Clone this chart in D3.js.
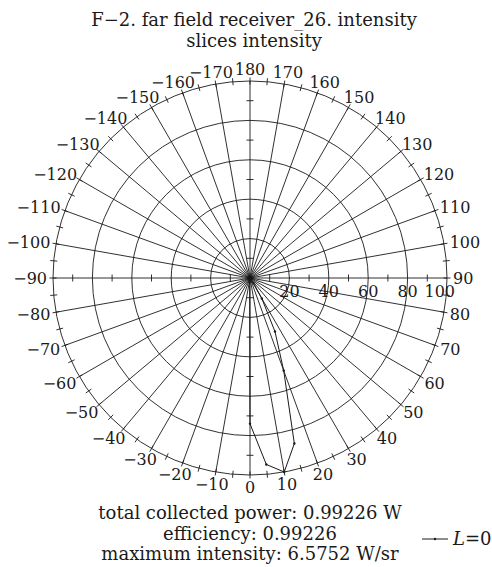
<!DOCTYPE html>
<html>
<head>
<meta charset="utf-8">
<script src="https://cdn.jsdelivr.net/npm/d3@7"></script>
<style>
body { margin: 0; background: #fff; }
svg { display: block; font-family: "DejaVu Serif", serif; }
</style>
</head>
<body>
<svg class="chart" width="492" height="567"></svg>
<script>
var titleLines = ["F\u22122. far field receiver_26. intensity", "slices intensity"];
var infoLines = ["total collected power: 0.99226 W", "efficiency: 0.99226", "maximum intensity: 6.5752 W/sr"];
var ringValues = [20, 40, 60, 80, 100];
var axisTickValues = [10, 30, 50, 70, 90];
var angleLabels = [-170, -160, -150, -140, -130, -120, -110, -100, -90, -80, -70, -60, -50, -40, -30, -20, -10,
                   0, 10, 20, 30, 40, 50, 60, 70, 80, 90, 100, 110, 120, 130, 140, 150, 160, 170, 180];
var seriesName = "L=0";
var sliceAngles = [-40, -35, -30, -25, -20, -15, -10, -5, 0, 5, 10, 15, 20, 25, 30, 35, 40];
var sliceValues = [0, 0, 0, 0, 0, 0.3, 0.8, 2, 74, 95, 100, 87, 50, 30, 12, 3, 0];

var cx = 250, cy = 278, R = 197;
var ink = "#1a1a1a";

var svg = d3.select(".chart");

var r = d3.scaleLinear().domain([0, 100]).range([0, R]);

// 0 deg points down, 90 to the right, 180 up
function toRad(deg) { return deg * Math.PI / 180; }
function pt(deg, radius) {
    var a = toRad(deg);
    return [cx + radius * Math.sin(a), cy + radius * Math.cos(a)];
}
function fmt(d) { return d < 0 ? "\u2212" + Math.abs(d) : String(d); }

var grid = svg.append("g").attr("stroke", ink).attr("stroke-width", 0.9).attr("fill", "none");

// rings
grid.selectAll("circle.ring")
    .data(ringValues)
    .enter().append("circle")
    .attr("class", "ring")
    .attr("cx", cx).attr("cy", cy)
    .attr("r", function(d) { return r(d); });

// spokes every 10 deg
grid.selectAll("line.spoke")
    .data(angleLabels)
    .enter().append("line")
    .attr("class", "spoke")
    .attr("x1", cx).attr("y1", cy)
    .attr("x2", function(d) { return pt(d, r(100))[0]; })
    .attr("y2", function(d) { return pt(d, r(100))[1]; });

// minor ticks on outer circle every 5 deg
var minorAngles = d3.range(-175, 185, 5);
grid.selectAll("line.minor")
    .data(minorAngles)
    .enter().append("line")
    .attr("class", "minor")
    .attr("x1", function(d) { return pt(d, R - 3.5)[0]; })
    .attr("y1", function(d) { return pt(d, R - 3.5)[1]; })
    .attr("x2", function(d) { return pt(d, R + 3.5)[0]; })
    .attr("y2", function(d) { return pt(d, R + 3.5)[1]; });

// small ticks along the four axes
[0, 90, 180, -90].forEach(function(axisDeg) {
    grid.selectAll(null)
        .data(axisTickValues)
        .enter().append("line")
        .each(function(v) {
            var p = pt(axisDeg, r(v));
            var a = toRad(axisDeg);
            // perpendicular direction
            var px = Math.cos(a) * 3.5, py = -Math.sin(a) * 3.5;
            d3.select(this)
                .attr("x1", p[0] - px).attr("y1", p[1] - py)
                .attr("x2", p[0] + px).attr("y2", p[1] + py);
        });
});

// angle labels outside the circle
var labelG = svg.append("g").attr("font-size", 16).attr("fill", ink);
labelG.selectAll("text")
    .data(angleLabels)
    .enter().append("text")
    .attr("text-anchor", "middle")
    .text(fmt)
    .each(function(d) {
        var w = this.getComputedTextLength(), h = 12;
        var a = toRad(d);
        var ux = Math.sin(a), uy = Math.cos(a);
        var p = pt(d, R + 6);
        var x = p[0] + ux * w / 2;
        var y = p[1] + uy * h / 2;
        d3.select(this).attr("x", x).attr("y", y + h / 2);
    });

// radial value labels under the horizontal axis
labelG.selectAll("text.rlab")
    .data(ringValues)
    .enter().append("text")
    .attr("class", "rlab")
    .attr("text-anchor", function(d, i) { return i === ringValues.length - 1 ? "end" : "middle"; })
    .attr("x", function(d, i) { return cx + r(d) + (i === ringValues.length - 1 ? 8 : 0); })
    .attr("y", cy + 19)
    .text(function(d) { return d; });

// the slice
var slice = sliceAngles.map(function(a, i) { return { angle: a, value: sliceValues[i] }; });
var line = d3.lineRadial()
    .angle(function(d) { return Math.PI - toRad(d.angle); })
    .radius(function(d) { return r(d.value); });

var plot = svg.append("g").attr("transform", "translate(" + cx + "," + cy + ")");
plot.append("path")
    .datum(slice)
    .attr("fill", "none")
    .attr("stroke", ink)
    .attr("stroke-width", 1)
    .attr("d", line);
plot.selectAll("circle")
    .data(slice)
    .enter().append("circle")
    .attr("r", 1.2)
    .attr("fill", ink)
    .attr("cx", function(d) { return r(d.value) * Math.sin(toRad(d.angle)); })
    .attr("cy", function(d) { return r(d.value) * Math.cos(toRad(d.angle)); });

// titles
var txt = svg.append("g").attr("font-size", 18).attr("fill", ink).attr("text-anchor", "middle");
txt.selectAll("text.title")
    .data(titleLines)
    .enter().append("text")
    .attr("class", "title")
    .attr("x", 254)
    .attr("y", function(d, i) { return 26 + i * 21; })
    .text(function(d) { return d; });

txt.selectAll("text.info")
    .data(infoLines)
    .enter().append("text")
    .attr("class", "info")
    .attr("x", 250)
    .attr("y", function(d, i) { return 519 + i * 20.5; })
    .text(function(d) { return d; });

// legend
var legend = svg.append("g").attr("transform", "translate(422,539)");
legend.append("line")
    .attr("x1", 0).attr("x2", 26).attr("y1", 0).attr("y2", 0)
    .attr("stroke", ink).attr("stroke-width", 1);
legend.append("circle").attr("cx", 13).attr("cy", 0).attr("r", 1.2).attr("fill", ink);
var lt = legend.append("text")
    .attr("x", 31).attr("y", 6)
    .attr("font-size", 18).attr("fill", ink);
lt.append("tspan").attr("font-style", "italic").text(seriesName.split("=")[0]);
lt.append("tspan").text("=" + seriesName.split("=")[1]);
</script>
</body>
</html>
